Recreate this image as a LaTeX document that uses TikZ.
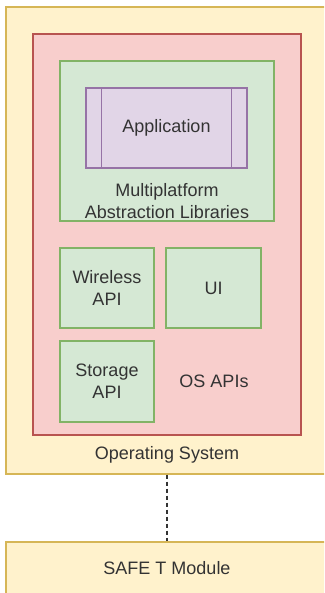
\documentclass[tikz,border=0pt]{standalone}
\usepackage{fontspec}
\setmainfont{Liberation Sans}
\definecolor{osfill}{HTML}{FFF2CC}
\definecolor{osline}{HTML}{D6B656}
\definecolor{apifill}{HTML}{F8CECC}
\definecolor{apiline}{HTML}{B85450}
\definecolor{libfill}{HTML}{D5E8D4}
\definecolor{libline}{HTML}{82B366}
\definecolor{appfill}{HTML}{E1D5E7}
\definecolor{appline}{HTML}{9673A6}
\definecolor{txt}{HTML}{333333}
\tikzset{
  box/.style={draw, line width=1.2pt, inner sep=0pt, text=txt, align=center,
    font=\fontsize{18}{22}\selectfont},
  osbox/.style={box, fill=osfill, draw=osline},
  apibox/.style={box, fill=apifill, draw=apiline},
  libbox/.style={box, fill=libfill, draw=libline},
  appbox/.style={box, fill=appfill, draw=appline},
  lbl/.style={text=txt, align=center, font=\fontsize{18}{22}\selectfont}
}
\begin{document}
\begin{tikzpicture}[x=1pt,y=-1pt]
  \useasboundingbox (0,0) rectangle (324,593);
  \clip (0,0) rectangle (324,593);
  % operating system
  \node[osbox, minimum width=322, minimum height=467] (os) at (167,240.5) {};
  \node[lbl] (oslbl) at (167,455) {Operating System};
  % os apis
  \node[apibox, minimum width=268, minimum height=401] (osapi) at (167,234.5) {};
  \node[lbl] (apilbl) at (214,381) {OS APIs};
  % libraries
  \node[libbox, minimum width=214, minimum height=160] (libs) at (167,141) {};
  \node[lbl] (liblbl) at (167,201) {Multiplatform\\Abstraction Libraries};
  \node[appbox, minimum width=161, minimum height=80] (app) at (166.5,128) {Application};
  \draw[appline, line width=1.2pt] ([xshift=16]app.north west) -- ([xshift=16]app.south west);
  \draw[appline, line width=1.2pt] ([xshift=-16]app.north east) -- ([xshift=-16]app.south east);
  % api boxes
  \node[libbox, minimum width=94, minimum height=80] (wireless) at (107,288) {Wireless\\API};
  \node[libbox, minimum width=95, minimum height=80] (ui) at (213.5,288) {UI};
  \node[libbox, minimum width=94, minimum height=81] (storage) at (107,381.5) {Storage\\API};
  % module
  \node[osbox, minimum width=322, minimum height=52] (safe) at (167,568) {SAFE T Module};
  \draw[txt, line width=1.2pt, dash pattern=on 4pt off 3pt] (os.south) -- (safe.north);
\end{tikzpicture}
\end{document}
